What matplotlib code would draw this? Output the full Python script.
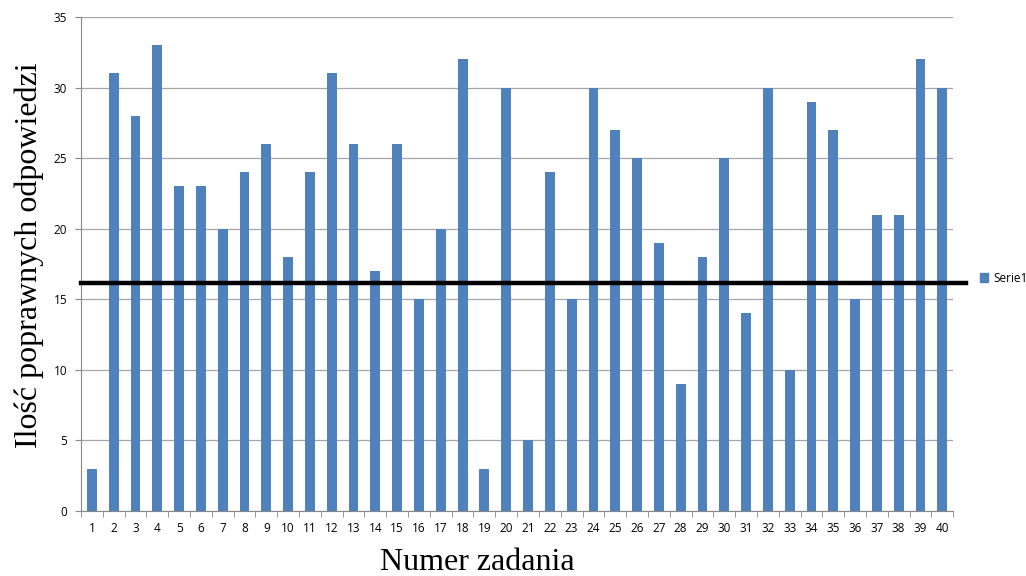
import matplotlib.pyplot as plt
from matplotlib.patches import Patch

# task numbers and number of correct answers
zadania = list(range(1, 41))
odpowiedzi = [3, 31, 28, 33, 23, 23, 20, 24, 26, 18,
              24, 31, 26, 17, 26, 15, 20, 32, 3, 30,
              5, 24, 15, 30, 27, 25, 19, 9, 18, 25,
              14, 30, 10, 29, 27, 15, 21, 21, 32, 30]
prog = 16.15  # black threshold line

fig = plt.figure(figsize=(10.26, 5.76), dpi=100)
ax = fig.add_axes([0.079, 0.1128, 0.850, 0.8577])

ax.bar(zadania, odpowiedzi, width=0.45, color='#4F81BD', zorder=2)
ax.axhline(prog, xmin=0, xmax=1.015, color='black', linewidth=3.2, clip_on=False, zorder=3)

ax.set_xlim(0.5, 40.5)
ax.set_ylim(0, 35)
ax.set_yticks(range(0, 36, 5))
ax.set_xticks(zadania)
ax.set_xticks([x + 0.5 for x in range(0, 41)], minor=True)
ax.tick_params(axis='x', which='major', length=0, pad=8, labelsize=8.5)
ax.tick_params(axis='x', which='minor', length=4, color='#888888')
ax.tick_params(axis='y', length=4, color='#888888', labelsize=8.5, pad=6)
for lab in ax.get_xticklabels() + ax.get_yticklabels():
    lab.set_fontfamily('Open Sans')

ax.grid(axis='y', color='#a6a6a6', linewidth=0.9, zorder=0)
ax.set_axisbelow(True)
for s in ['top', 'right']:
    ax.spines[s].set_visible(False)
ax.spines['left'].set_color('#888888')
ax.spines['bottom'].set_color('#888888')

# axis titles, placed like in the original chart
fig.text(477 / 1026, 1 - 563 / 576, "Numer zadania", fontsize=23, fontfamily='Liberation Serif',
         ha='center', va='center')
fig.text(29 / 1026, 1 - 255 / 576, "Ilość poprawnych odpowiedzi", fontsize=23,
         fontfamily='Liberation Serif', rotation=90, ha='center', va='center')

leg = fig.legend(handles=[Patch(color='#4F81BD', label='Serie1')], loc='center left',
                 bbox_to_anchor=(0.945, 1 - 278 / 576), frameon=False,
                 handlelength=0.7, handleheight=0.7, handletextpad=0.4,
                 prop={'family': 'Open Sans', 'size': 8.5})

fig.savefig("out.png", dpi=100)
